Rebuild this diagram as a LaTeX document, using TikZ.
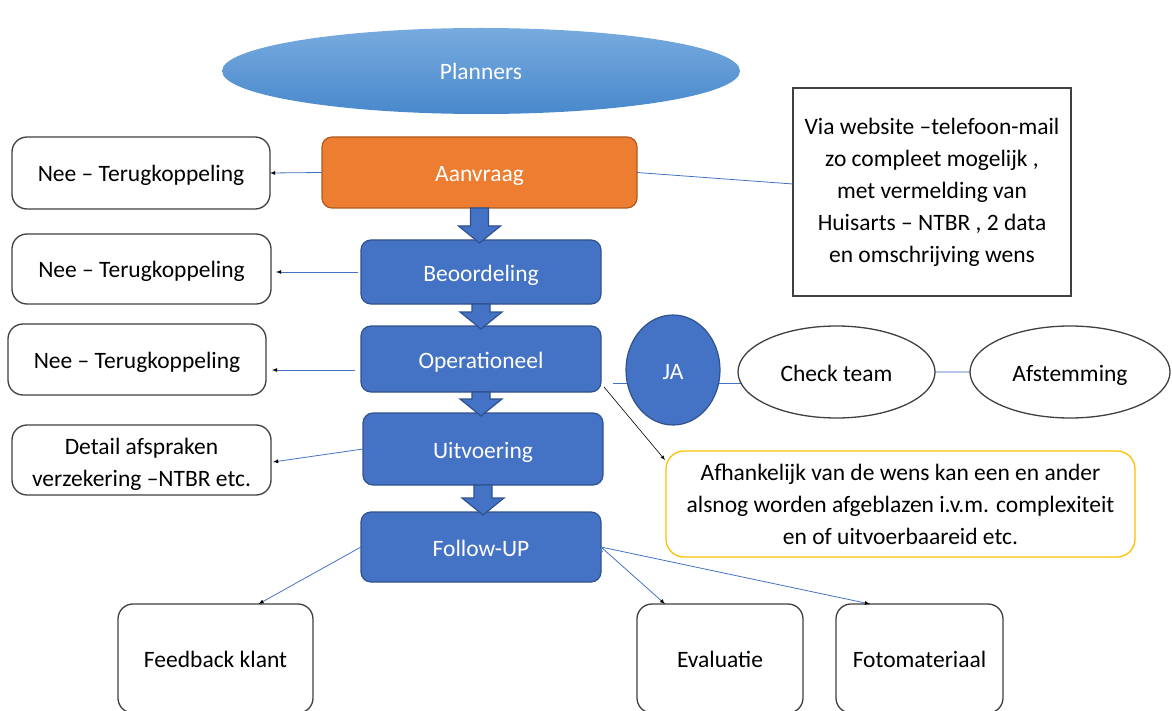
\documentclass[tikz,border=0pt]{standalone}
\usepackage{fontspec}
\setmainfont{Carlito}
\usetikzlibrary{shapes.geometric,calc,backgrounds}

\definecolor{stageblue}{HTML}{4472C4}
\definecolor{stageline}{HTML}{2F528F}
\definecolor{requestorange}{HTML}{ED7D31}
\definecolor{requestline}{HTML}{AE5A21}
\definecolor{plannertop}{HTML}{78ABDF}
\definecolor{plannerbottom}{HTML}{4888CB}
\definecolor{linkblue}{HTML}{4472C4}
\definecolor{softlink}{HTML}{B4C7E7}
\definecolor{boxline}{HTML}{404040}
\definecolor{noteyellow}{HTML}{FFC000}

% block arrow from one stage to the next
\newcommand{\stagearrow}[2]{%
  \draw[bigdown] ($(#1.south)+(-9,0)$)
    -- ($(#2.north -| #1.south)+(-9,-14)$)
    -- ($(#2.north -| #1.south)+(-21,-14)$)
    -- ($(#2.north -| #1.south)+(0,3)$)
    -- ($(#2.north -| #1.south)+(21,-14)$)
    -- ($(#2.north -| #1.south)+(9,-14)$)
    -- ($(#1.south)+(9,0)$) -- cycle;}

\begin{document}
\begin{tikzpicture}[x=1pt,y=-1pt,
    every node/.style={font=\fontsize{23.5}{32}\selectfont, align=center, inner sep=0pt, outer sep=0pt},
    oneline/.style={text height=24pt, text depth=6pt},
    stagebox/.style={rectangle, oneline, rounded corners=10pt, draw=stageline, fill=stageblue, text=white, line width=1.2pt, minimum width=240pt},
    answerbox/.style={rectangle, rounded corners=15pt, draw=boxline, fill=white, line width=1.3pt},
    roundbox/.style={ellipse, oneline, draw=boxline, fill=white, line width=1.3pt},
    link/.style={->, >=latex, draw=linkblue, line width=0.8pt},
    bigdown/.style={fill=stageblue, draw=stageline, line width=1.2pt}
  ]
  \useasboundingbox (0,0) rectangle (1172,711);
  \clip (0,0) rectangle (1172,711);

  \node (planners) at (481,71) [ellipse, oneline, minimum width=518pt, minimum height=86pt, top color=plannertop, bottom color=plannerbottom, text=white] {Planners};

  \node (aanvraag) at (479.5,172.5) [stagebox, fill=requestorange, draw=requestline, minimum width=315pt, minimum height=71pt] {Aanvraag};
  \node (beoordeling) at (481,272) [stagebox, minimum height=64pt] {Beoordeling};
  \node (operationeel) at (481,359) [stagebox, minimum height=66pt] {Operationeel};
  \node (uitvoering) at (483,449) [stagebox, minimum height=72pt] {Uitvoering};
  \node (followup) at (481,547) [stagebox, minimum height=70pt] {Follow-UP};

  \node (nee1) at (141,173) [answerbox, oneline, minimum width=258pt, minimum height=72pt] {Nee -- Terugkoppeling};
  \node (nee2) at (141.5,269) [answerbox, oneline, minimum width=259pt, minimum height=70pt] {Nee -- Terugkoppeling};
  \node (nee3) at (137,359.5) [answerbox, oneline, minimum width=258pt, minimum height=71pt] {Nee -- Terugkoppeling};
  \node (detail) at (141.5,460) [answerbox, minimum width=259pt, minimum height=70pt] {\rule{0pt}{25pt}Detail afspraken\\verzekering --NTBR etc.};

  \node (info) at (932,192) [rectangle, draw=boxline, fill=white, line width=1.3pt, minimum width=278pt, minimum height=208pt] {Via website --telefoon-mail\\zo compleet mogelijk ,\\met vermelding van\\Huisarts -- NTBR , 2 data\\en omschrijving wens};

  \node (ja) at (673,370) [ellipse, oneline, draw=stageline, fill=stageblue, text=white, line width=1.2pt, minimum width=94pt, minimum height=110pt] {JA};
  \node (check) at (836.5,372) [roundbox, minimum width=197pt, minimum height=92pt] {Check team};
  \node (afstemming) at (1070,372) [roundbox, minimum width=200pt, minimum height=92pt] {Afstemming};

  \node (note) at (900.5,504) [rectangle, rounded corners=18pt, draw=noteyellow, fill=white, line width=1.3pt, minimum width=469pt, minimum height=106pt] {Afhankelijk van de wens kan een en ander\\alsnog worden afgeblazen i.v.m. complexiteit\\en of uitvoerbaareid etc.};

  \node (feedback) at (215.5,658.5) [answerbox, oneline, minimum width=195pt, minimum height=109pt] {Feedback klant};
  \node (evaluatie) at (720,658.5) [answerbox, oneline, minimum width=166pt, minimum height=109pt] {Evaluatie};
  \node (foto) at (919.5,658.5) [answerbox, oneline, minimum width=167pt, minimum height=109pt] {Fotomateriaal};

  % lines running behind the ellipses
  \begin{scope}[on background layer]
    \coordinate (jastart) at ($(operationeel.east)+(12,24)$);
    \draw [draw=linkblue, line width=0.8pt] (jastart) -- (jastart -| check.center);
    \draw [draw=softlink, line width=2pt] (check) -- (afstemming);
  \end{scope}

  \stagearrow{aanvraag}{beoordeling}
  \stagearrow{beoordeling}{operationeel}
  \stagearrow{operationeel}{uitvoering}
  \stagearrow{uitvoering}{followup}

  \draw [draw=linkblue, line width=0.8pt] (aanvraag.east) -- ($(info.west)+(0,-8)$);
  \path [link]
    (aanvraag.west) edge (nee1.east)
    ($(beoordeling.west)+(-3,0)$) edge ($(nee2.east)+(5,3)$)
    ($(operationeel.west)+(-6,11)$) edge ($(nee3.east)+(6,10.5)$)
    (uitvoering.west) edge ($(detail.east)+(2,2)$)
    (followup.west) edge ($(feedback.north)+(43,0)$)
    (followup.east) edge ($(evaluatie.north west)+(28,0)$)
    (followup.east) edge ($(foto.north west)+(34,0)$)
  ;
  \draw [->, >=latex, line width=0.6pt] ($(operationeel.south east)+(3,-5)$) -- ($(note.north west)+(-1,9)$);
\end{tikzpicture}
\end{document}
